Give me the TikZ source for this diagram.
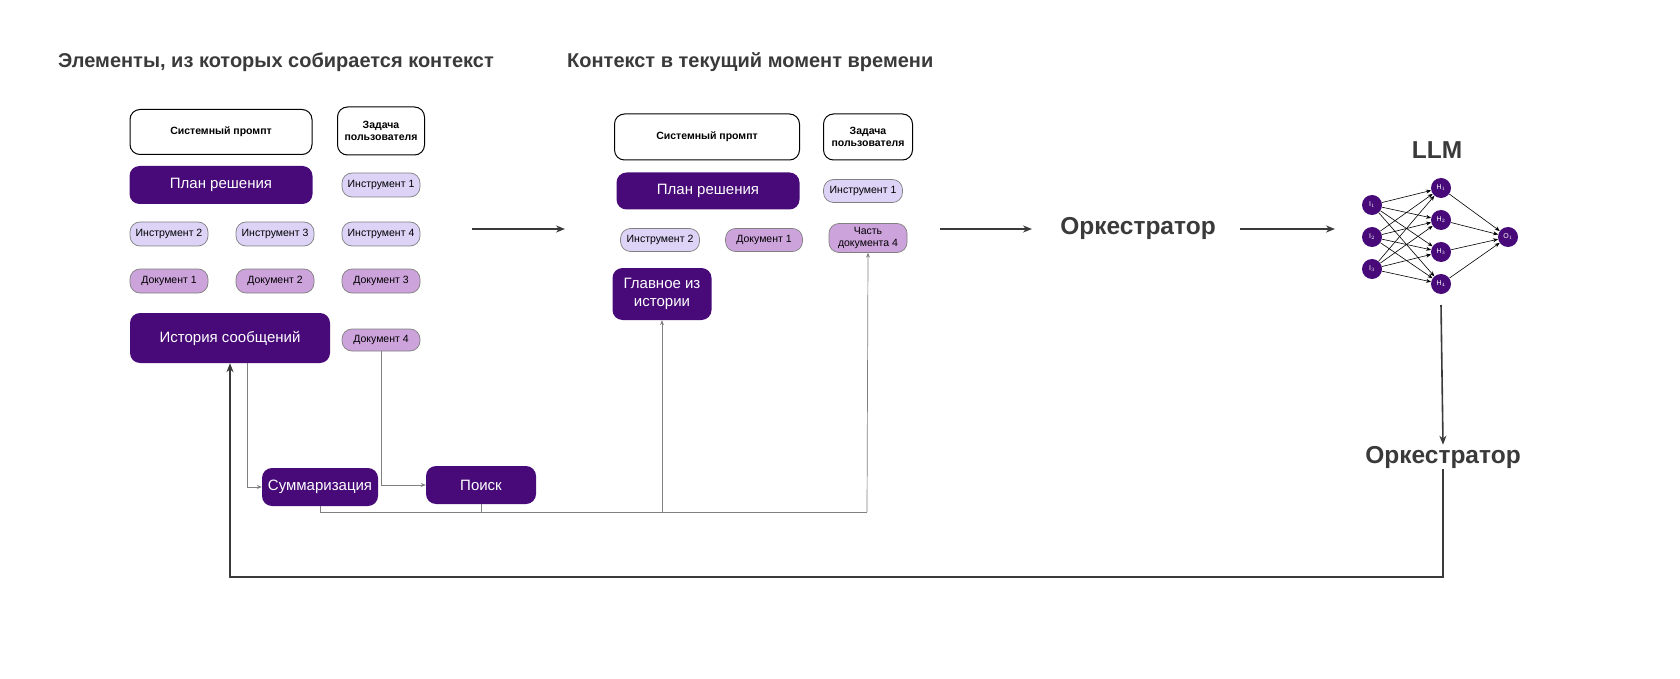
\documentclass[tikz,border=0pt]{standalone}
\usepackage{fontspec}
\setmainfont{Liberation Sans}
\usetikzlibrary{arrows.meta}
\definecolor{deep}{HTML}{470A78}
\definecolor{lilac}{HTML}{DCD3F7}
\definecolor{mauve}{HTML}{CDA3DC}
\definecolor{ink}{HTML}{3A3A3A}
\begin{document}
\begin{tikzpicture}[x=1pt,y=-1pt,scale=0.5,
      every node/.style={transform shape,rounded corners=5pt,align=center,inner sep=1pt},
      frame/.style={draw=black,line width=0.5pt,fill=white,font=\bfseries\fontsize{10.5}{12.5}\selectfont},
      dark/.style={fill=deep,text=white,font=\fontsize{15}{18}\selectfont},
      tool/.style={draw=gray,line width=0.35pt,fill=lilac,font=\fontsize{10.5}{12.5}\selectfont,minimum width=78pt,minimum height=24pt},
      doc/.style={draw=gray,line width=0.35pt,fill=mauve,font=\fontsize{10.5}{12.5}\selectfont,minimum width=78pt,minimum height=24pt},
      title/.style={font=\bfseries\fontsize{20}{24}\selectfont,text=ink},
      big/.style={ink,line width=0.8pt,-{Stealth[length=4.5pt,width=3.5pt]}},
      thin/.style={gray,line width=0.35pt,-{Stealth[length=2.5pt,width=2pt]}},
      neuron/.style={circle,fill=deep,text=white,minimum size=20pt,inner sep=0pt,font=\fontsize{7}{7}\selectfont}]
    \useasboundingbox (0,0) rectangle (1680,679);
    % headings
    \node[title,anchor=west] (h1) at (57,62) {Элементы, из которых собирается контекст};
    \node[title,anchor=west] (h2) at (566,62) {Контекст в текущий момент времени};
    % elements
    \node[frame,minimum width=182pt,minimum height=45pt] (sys1) at (221,132) {Системный промпт};
    \node[frame,minimum width=87pt,minimum height=48pt] (task1) at (381,131) {Задача\\пользователя};
    \node[dark,minimum width=183pt,minimum height=38pt] (plan1) at (221,185) {План решения};
    \node[tool] (t1) at (381,185) {Инструмент 1};
    \node[tool] (t2) at (169,234) {Инструмент 2};
    \node[tool] (t3) at (275,234) {Инструмент 3};
    \node[tool] (t4) at (381,234) {Инструмент 4};
    \node[doc] (d1) at (169,281) {Документ 1};
    \node[doc] (d2) at (275,281) {Документ 2};
    \node[doc] (d3) at (381,281) {Документ 3};
    \node[dark,minimum width=200pt,minimum height=50pt] (hist) at (230,338) {История сообщений};
    \node[doc,minimum height=22pt] (d4) at (381,340) {Документ 4};
    \node[dark,minimum width=116pt,minimum height=38pt] (summ) at (320,487) {Суммаризация};
    \node[dark,minimum width=110pt,minimum height=38pt] (search) at (481,485) {Поиск};
    % current context
    \node[frame,minimum width=185pt,minimum height=46pt] (sys2) at (707,137) {Системный промпт};
    \node[frame,minimum width=89pt,minimum height=46pt] (task2) at (868,137) {Задача\\пользователя};
    \node[dark,minimum width=183pt,minimum height=37pt] (plan2) at (708,191) {План решения};
    \node[tool,minimum width=79pt,minimum height=23pt] (ct1) at (863,191) {Инструмент 1};
    \node[tool,minimum width=79pt,minimum height=23pt] (ct2) at (660,240) {Инструмент 2};
    \node[doc,minimum width=77pt,minimum height=23pt] (cd1) at (764,240) {Документ 1};
    \node[doc,minimum width=78pt,minimum height=29pt] (part) at (868,238) {Часть\\документа 4};
    \node[dark,minimum width=99pt,minimum height=52pt] (main) at (662,294) {Главное из\\истории};
    % orchestrators and LLM
    \node[title,font=\bfseries\fontsize{24.5}{28}\selectfont] (orc1) at (1138,228) {Оркестратор};
    \node[title,font=\bfseries\fontsize{24.5}{28}\selectfont] (orc2) at (1443,457) {Оркестратор};
    \node[title,font=\bfseries\fontsize{24.5}{28}\selectfont] (llm) at (1437,150) {LLM};
    \foreach \i in {1,2,3}
      \node[neuron] (in\i) at (1372,173+32*\i) {I$_\i$};
    \foreach \j in {1,...,4}
      \node[neuron] (hid\j) at (1441,156+32*\j) {H$_\j$};
    \node[neuron] (out) at (1508,237) {O$_1$};
    \foreach \i in {1,2,3}
      \foreach \j in {1,...,4}
        \draw[black,line width=0.3pt,-{Stealth[length=2.5pt,width=2pt]}] (in\i) -- (hid\j);
    \foreach \j in {1,...,4}
      \draw[black,line width=0.3pt,-{Stealth[length=2.5pt,width=2pt]}] (hid\j) -- (out);
    \coordinate (nnbot) at (1441,305);
    % main flow
    \coordinate (a1) at (472,229);
    \coordinate (a2) at (565,229);
    \draw[big] (a1) -- (a2);
    \coordinate (b1) at (940,229);
    \coordinate (b2) at (1032,229);
    \draw[big] (b1) -- (b2);
    \coordinate (c1) at (1240,229);
    \coordinate (c2) at (1335,229);
    \draw[big] (c1) -- (c2);
    \draw[big] (nnbot) -- (orc2.north);
    \draw[big] (orc2.south) |- (230,577) -- (hist.south);
    % side flow
    \draw[thin] (hist.south -| 247,0) |- (summ.west);
    \draw[thin] (d4.south) |- (search.west);
    \coordinate (bus) at (867,512);
    \draw[gray,line width=0.35pt] (summ.south) |- (bus);
    \draw[gray,line width=0.35pt] (search.south) -- (search.south |- bus);
    \draw[thin] (main.south |- bus) -- (main.south);
    \draw[thin] (bus) -- (part.south);
\end{tikzpicture}
\end{document}
